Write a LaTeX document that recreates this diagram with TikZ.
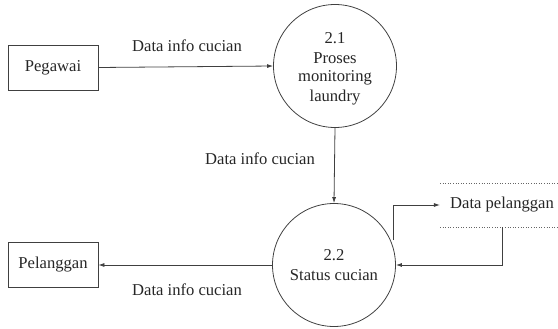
\documentclass[tikz,border=0pt]{standalone}
\usepackage{fontspec}
\setmainfont{Liberation Serif}
\usetikzlibrary{arrows.meta}
\begin{document}
\begin{tikzpicture}[x=1pt,y=-1pt,
  every node/.style={font=\fontsize{16.6}{19}\selectfont, text=black!85},
  entity/.style={draw=black!75, line width=0.8pt, minimum width=90pt, minimum height=45pt, inner sep=0pt},
  process/.style={draw=black!75, line width=0.8pt, circle, minimum size=123pt, inner sep=0pt, align=center},
  flow/.style={draw=black!75, line width=0.8pt, -{Latex[length=6pt,width=4pt]}},
  store/.style={draw=black!60, line width=0.6pt, dotted},
  lbl/.style={inner sep=0pt}]
\useasboundingbox (0,0) rectangle (558,329);

% external entities
\node[entity] (peg) at (53,67.5) {Pegawai};
\node[entity] (pel) at (53,265) {Pelanggan};

% processes
\node[process] (p1) at (335,66) {};
\node[lbl] at (335,38) {2.1};
\node[lbl] at (335,58) {Proses};
\node[lbl] at (335,78) {monitoring};
\node[lbl] at (335,98) {laundry};

\node[process] (p2) at (334,265) {};
\node[lbl] at (334,255) {2.2};
\node[lbl] at (334,275) {Status cucian};

% data store
\coordinate (s1a) at (440,183);
\coordinate (s1b) at (558,183);
\coordinate (s2a) at (440,227);
\coordinate (s2b) at (558,227);
\draw[store] (s1a) -- (s1b);
\draw[store] (s2a) -- (s2b);
\node[lbl, inner xsep=10pt] (ds) at (502,205) {Data pelanggan};

% flows
\draw[flow] (peg.east) -- (p1.west);
\node[lbl] at (187,46) {Data info cucian};

\draw[flow] (p1.south) -- (p2.north);
\node[lbl] at (260,159) {Data info cucian};

\draw[flow] (p2.west) -- (pel.east);
\node[lbl] at (187,290) {Data info cucian};

\coordinate (up) at (393,240);
\draw[flow] (up) -- (393,205) -- (ds.west);
\coordinate (dn) at (502,227);
\draw[flow] (dn) -- (502,265) -- (p2.east);
\end{tikzpicture}
\end{document}
